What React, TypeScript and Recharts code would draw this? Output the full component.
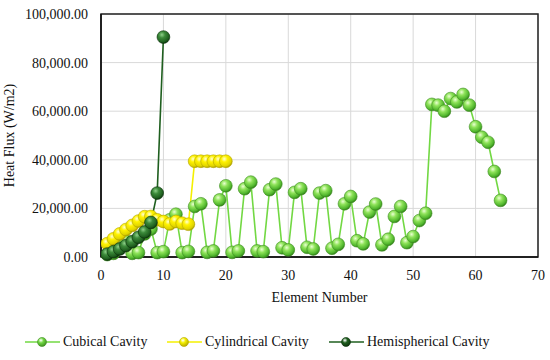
import React from 'react'
import {
  LineChart,
  Line,
  XAxis,
  YAxis,
  CartesianGrid,
  ReferenceArea,
} from 'recharts'

// Heat flux (W/m2) per element number
const cubical = [
  1000, 1500, 5000, 6500, 1500, 1800, 9500, 11500, 1800, 2200,
  15300, 17600, 1800, 2300, 20800, 21900, 1900, 2500, 23500, 29300,
  1900, 2500, 28100, 30800, 2500, 2200, 27700, 30000, 3800, 2900,
  26600, 28100, 4000, 3300, 26300, 27300, 3600, 5200, 21900, 24900,
  6700, 5400, 18500, 21800, 5000, 7300, 16700, 20800, 5900, 8400,
  15000, 18000, 62800, 62500, 60000, 65200, 63800, 66900, 62500, 53600,
  49300, 47200, 35200, 23300,
]
const cylindrical = [
  5500, 7500, 9500, 11300, 13000, 14800, 16600, 16700, 15300, 14600,
  13600, 14600, 13900, 13500, 39400, 39400, 39400, 39400, 39400, 39400,
]
const hemispherical = [1200, 2200, 3300, 4700, 6300, 8100, 10300, 14200, 26300, 90500]

const xTicks = [0, 10, 20, 30, 40, 50, 60, 70]
const yTicks = [0, 20000, 40000, 60000, 80000, 100000]

const data = cubical.map((v, i) => ({
  element: i + 1,
  cubical: v,
  cylindrical: cylindrical[i] ?? null,
  hemispherical: hemispherical[i] ?? null,
}))

const FONT = 'Liberation Serif, Times New Roman, Times, DejaVu Serif, serif'

const SERIES = [
  { key: 'cubical', label: 'Cubical Cavity', line: '#72d843', grad: 'gCub', edge: '#3f8f22', left: 25 },
  { key: 'cylindrical', label: 'Cylindrical Cavity', line: '#f4f000', grad: 'gCyl', edge: '#b5a800', left: 167 },
  { key: 'hemispherical', label: 'Hemispherical Cavity', line: '#1f5f1f', grad: 'gHem', edge: '#0c330c', left: 329 },
]

const fmt = (v: number) =>
  v.toLocaleString('en-US', { minimumFractionDigits: 2, maximumFractionDigits: 2 })

function makeDot(grad: string, edge: string) {
  return (props: any) => {
    const { cx, cy, index, value } = props
    if (value == null || cx == null || cy == null) return <g key={`${grad}-${index}`} />
    return (
      <circle
        key={`${grad}-${index}`}
        cx={cx}
        cy={cy}
        r={6.4}
        fill={`url(#${grad})`}
        stroke={edge}
        strokeWidth={0.6}
      />
    )
  }
}

function Gradients() {
  return (
    <defs>
      <radialGradient id="gCub" cx="38%" cy="32%" r="70%">
        <stop offset="0%" stopColor="#eaffd2" />
        <stop offset="35%" stopColor="#8fe35a" />
        <stop offset="80%" stopColor="#4fb52c" />
        <stop offset="100%" stopColor="#2f7a18" />
      </radialGradient>
      <radialGradient id="gCyl" cx="38%" cy="32%" r="70%">
        <stop offset="0%" stopColor="#ffffd8" />
        <stop offset="35%" stopColor="#fff200" />
        <stop offset="80%" stopColor="#e0d400" />
        <stop offset="100%" stopColor="#a89800" />
      </radialGradient>
      <radialGradient id="gHem" cx="38%" cy="32%" r="70%">
        <stop offset="0%" stopColor="#8fcf8a" />
        <stop offset="35%" stopColor="#3c8a3a" />
        <stop offset="80%" stopColor="#1f5f1f" />
        <stop offset="100%" stopColor="#0c330c" />
      </radialGradient>
    </defs>
  )
}

function LegendBox() {
  return (
    <div style={{ position: 'absolute', left: 0, top: 333, width: 550, height: 18 }}>
      {SERIES.map((s) => (
        <div
          key={s.key}
          style={{
            position: 'absolute',
            left: s.left,
            top: 0,
            display: 'flex',
            alignItems: 'center',
            fontFamily: FONT,
            fontSize: 14,
            color: '#111',
            whiteSpace: 'nowrap',
          }}
        >
          <svg width={35} height={18} style={{ marginRight: 3 }}>
            <line x1={0} y1={9} x2={35} y2={9} stroke={s.line} strokeWidth={1.5} />
            <circle cx={17} cy={9} r={4.5} fill={`url(#${s.grad}L)`} stroke={s.edge} strokeWidth={0.6} />
            <defs>
              <radialGradient id={`${s.grad}L`} cx="38%" cy="32%" r="70%">
                <stop offset="0%" stopColor="#ffffff" stopOpacity={0.8} />
                <stop offset="40%" stopColor={s.line} />
                <stop offset="100%" stopColor={s.edge} />
              </radialGradient>
            </defs>
          </svg>
          <span>{s.label}</span>
        </div>
      ))}
    </div>
  )
}

export default function App() {
  return (
    <div style={{ position: 'absolute', left: 0, top: 0, width: 550, height: 360, background: '#fff' }}>
      <LineChart
        width={550}
        height={360}
        data={data}
        margin={{ top: 14, right: 12, bottom: 58, left: 0 }}
      >
        <Gradients />
        <CartesianGrid stroke="#d9d9d9" strokeWidth={1} />
        <XAxis
          dataKey="element"
          type="number"
          domain={[0, 70]}
          ticks={xTicks}
          allowDataOverflow
          height={45}
          tickLine={false}
          tickSize={0}
          tickMargin={13}
          axisLine={{ stroke: '#111', strokeWidth: 1.5 }}
          tick={{ fontFamily: FONT, fontSize: 14, fill: '#111' }}
          label={{
            value: 'Element Number',
            position: 'insideBottom',
            offset: 0,
            style: { fontFamily: FONT, fontSize: 14, fill: '#111' },
          }}
        />
        <YAxis
          type="number"
          domain={[0, 100000]}
          ticks={yTicks}
          width={101}
          tickLine={false}
          tickSize={0}
          tickMargin={13}
          tickFormatter={fmt}
          axisLine={{ stroke: '#111', strokeWidth: 1.5 }}
          tick={{ fontFamily: FONT, fontSize: 14, fill: '#111' }}
          label={{
            value: 'Heat Flux (W/m2)',
            angle: -90,
            position: 'insideLeft',
            offset: 9,
            style: { fontFamily: FONT, fontSize: 14, fill: '#111', textAnchor: 'middle' },
          }}
        />
        <ReferenceArea x1={0} x2={70} y1={0} y2={100000} fill="none" stroke="#222" strokeWidth={1.5} />
        {SERIES.map((s) => (
          <Line
            key={s.key}
            type="linear"
            dataKey={s.key}
            stroke={s.line}
            strokeWidth={1.6}
            dot={makeDot(s.grad, s.edge)}
            activeDot={false}
            isAnimationActive={false}
          />
        ))}
      </LineChart>
      <LegendBox />
    </div>
  )
}
